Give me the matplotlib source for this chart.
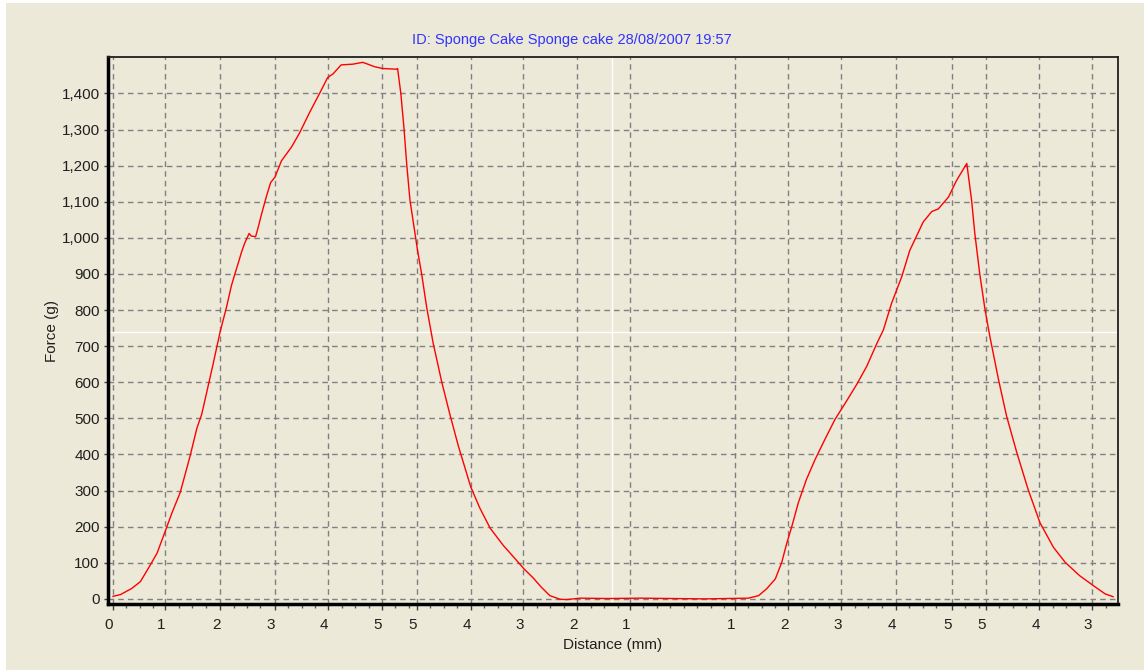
import numpy as np
import matplotlib
matplotlib.use('Agg')
import matplotlib.pyplot as plt
import matplotlib.transforms as mtransforms
from matplotlib.patches import Rectangle
from matplotlib.ticker import FixedLocator, FuncFormatter

plt.rcParams['font.family'] = ['Liberation Sans', 'DejaVu Sans']

# probe travel (cumulative, mm) and force (g)
travel = [0.0, 0.14, 0.35, 0.51, 0.69, 0.82, 0.98, 1.09, 1.25, 1.43, 1.56, 1.65, 1.74,
          1.86, 1.99, 2.11, 2.20, 2.27, 2.33, 2.39, 2.45, 2.53, 2.57, 2.65, 2.70, 2.76,
          2.85, 2.93, 3.01, 3.13, 3.32, 3.47, 3.65, 3.84, 3.99, 4.09, 4.24, 4.46, 4.64,
          4.70, 4.86, 5.01, 5.27, 5.29,
          5.35, 5.41, 5.46, 5.52, 5.58, 5.66, 5.74, 5.83, 5.95, 6.11, 6.26, 6.42, 6.65,
          6.82, 7.01, 7.26, 7.44, 7.64, 7.81, 7.97, 8.12, 8.31, 8.43, 8.68, 9.2, 9.8,
          10.4, 11.0, 11.81,
          12.00, 12.15, 12.31, 12.43, 12.52, 12.62, 12.74, 12.89, 13.05, 13.23, 13.42,
          13.61, 13.82, 14.01, 14.20, 14.32, 14.47, 14.66, 14.81, 15.06, 15.22, 15.34,
          15.53, 15.68, 15.87,
          15.96, 16.02, 16.11, 16.21, 16.30, 16.46, 16.61, 16.80, 17.01, 17.23, 17.48,
          17.70, 17.97, 18.22, 18.44, 18.59]
force_g = [7, 12, 29, 48, 93, 127, 191, 236, 295, 394, 473, 512, 571,
           650, 739, 808, 867, 902, 931, 961, 986, 1012, 1005, 1003, 1030, 1065,
           1114, 1153, 1168, 1213, 1252, 1291, 1346, 1400, 1444, 1454, 1479, 1481, 1486,
           1483, 1474, 1469, 1467, 1469,
           1400, 1301, 1203, 1104, 1045, 966, 897, 808, 709, 601, 512, 423, 310,
           251, 196, 147, 117, 83, 58, 31, 9, -1, -2, 2, 1, 2,
           1, 0, 2,
           9, 28, 55, 101, 152, 202, 267, 331, 386, 441, 497,
           542, 593, 644, 708, 745, 818, 892, 965, 1044, 1073, 1080,
           1113, 1159, 1206,
           1103, 1011, 901, 800, 726, 607, 506, 405, 303, 211, 143,
           101, 64, 37, 14, 6]

# distance axis: ticks along the travel, labelled with the probe distance
tick_travel = [0, 0.97, 1.99, 3.01, 4.0, 5.0, 5.65, 6.65, 7.63, 8.63, 9.61,
               11.56, 12.55, 13.54, 14.55, 15.59, 16.22, 17.22, 18.2]
tick_labels = ['0', '1', '2', '3', '4', '5', '5', '4', '3', '2', '1',
               '1', '2', '3', '4', '5', '5', '4', '3']
force_ticks = list(range(0, 1500, 100))

title = 'ID: Sponge Cake Sponge cake 28/08/2007 19:57'
cursor_travel = 9.28
cursor_force = 738

bg = '#ECE9D8'
fig = plt.figure(figsize=(11.44, 6.70), dpi=100, facecolor='white')
fig.patches.append(Rectangle((6 / 1144, 0), 1, (670 - 3) / 670, transform=fig.transFigure,
                             facecolor=bg, edgecolor='none', zorder=-5))
ax = fig.add_axes([108 / 1144, 1 - 604.3 / 670, (1117.7 - 108) / 1144, (604.3 - 57.3) / 670])
ax.set_facecolor(bg)

ax.plot(travel, force_g, color='#FF0000', lw=1.0, zorder=3)

# cursor crosshair
ax.axvline(cursor_travel, color='white', lw=1, zorder=2)
ax.axhline(cursor_force, color='white', lw=1, zorder=2)

ax.set_xlim(-0.093, 18.675)
ax.set_ylim(-15, 1500)

ax.xaxis.set_major_locator(FixedLocator(tick_travel))
ax.set_xticklabels(tick_labels)
minors = []
for a, b in zip(tick_travel[:-1], tick_travel[1:]):
    m = a + 0.25
    while m < b - 0.1:
        minors.append(m)
        m += 0.25
m = tick_travel[-1] + 0.25
while m < 18.675:
    minors.append(m)
    m += 0.25
ax.xaxis.set_minor_locator(FixedLocator(minors))

ax.set_yticks(force_ticks)
ax.yaxis.set_major_formatter(FuncFormatter(lambda v, p: f'{int(v):,}'))

ax.grid(True, which='major', color='#808080', linestyle=(0, (4, 3)), lw=1)
ax.tick_params(axis='x', which='major', direction='out', length=4, width=1,
               color='#404040', labelsize=11, labelcolor='#202020', pad=6)
ax.tick_params(axis='y', which='major', direction='out', length=3, width=1,
               color='#404040', labelsize=11, labelcolor='#202020', pad=3)
ax.tick_params(axis='x', which='minor', direction='out', length=3, width=1, color='#606060')

offset = mtransforms.ScaledTranslation(-4 / 100, 0, fig.dpi_scale_trans)
for lab in ax.get_xticklabels():
    lab.set_transform(lab.get_transform() + offset)

for side in ['left', 'bottom']:
    ax.spines[side].set_linewidth(2.5)
    ax.spines[side].set_color('black')
for side in ['top', 'right']:
    ax.spines[side].set_linewidth(1.3)
    ax.spines[side].set_color('#202020')

ax.set_xlabel('Distance (mm)', fontsize=11, color='#202020', labelpad=4)
ax.set_ylabel('Force (g)', fontsize=11, color='#202020')
ax.yaxis.set_label_coords(-0.049, 0.5)
fig.text(572 / 1144, 1 - 40 / 670, title, ha='center', va='center',
         fontsize=10.5, color='#3333FF')

fig.savefig('out.png', dpi=100, facecolor=fig.get_facecolor())
